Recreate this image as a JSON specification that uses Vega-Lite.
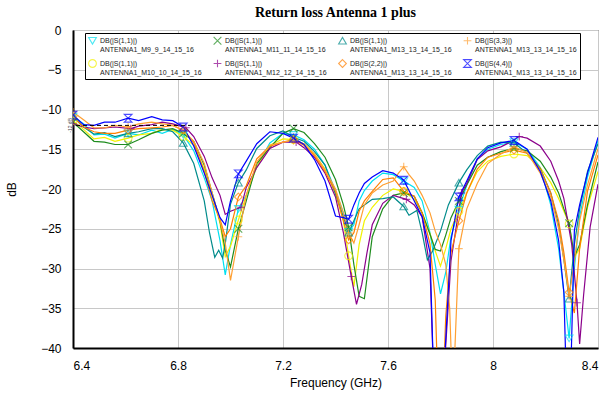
{
  "$schema": "https://vega.github.io/schema/vega-lite/v6.json",
  "autosize": "none",
  "width": 525,
  "height": 318,
  "padding": {"left": 73, "top": 30, "right": 15, "bottom": 48},
  "background": "white",
  "title": {"text": "Return loss Antenna 1 plus", "font": "Liberation Serif", "fontSize": 14, "fontWeight": "bold", "color": "black", "offset": 4, "anchor": "middle"},
  "config": {
    "view": {"stroke": "#222", "strokeWidth": 1},
    "axis": {"labelFont": "Liberation Sans", "titleFont": "Liberation Sans", "labelFontSize": 12, "titleFontSize": 12, "titleFontWeight": "normal", "labelColor": "black", "titleColor": "black", "gridColor": "#c8c8c8", "gridWidth": 1, "ticks": false, "domainColor": "black", "domainWidth": 2},
    "legend": {"orient": "none", "legendX": 12, "legendY": 3, "columns": 4, "direction": "horizontal",
      "labelFont": "Liberation Sans", "labelFontSize": 7, "labelColor": "#222", "labelLimit": 200,
      "symbolSize": 60, "symbolStrokeWidth": 1.1, "columnPadding": 9, "rowPadding": 4, "padding": 3,
      "fillColor": "white", "strokeColor": "black", "strokeWidth": 1, "labelOffset": 3}
  },
  "datasets": {
    "series": [
      {"k": "a", "n": "DB(|S(1,1)|)\nANTENNA1_M9_9_14_15_16"},
      {"k": "b", "n": "DB(|S(1,1)|)\nANTENNA1_M10_10_14_15_16"},
      {"k": "c", "n": "DB(|S(1,1)|)\nANTENNA1_M11_11_14_15_16"},
      {"k": "d", "n": "DB(|S(1,1)|)\nANTENNA1_M12_12_14_15_16"},
      {"k": "e", "n": "DB(|S(1,1)|)\nANTENNA1_M13_13_14_15_16"},
      {"k": "f", "n": "DB(|S(2,2)|)\nANTENNA1_M13_13_14_15_16"},
      {"k": "g", "n": "DB(|S(3,3)|)\nANTENNA1_M13_13_14_15_16"},
      {"k": "h", "n": "DB(|S(4,4)|)\nANTENNA1_M13_13_14_15_16"}
    ],
    "pts": [
      {"k":"a","f":6.40,"d":-10.9},{"k":"a","f":6.44,"d":-11.8},{"k":"a","f":6.48,"d":-13.2},{"k":"a","f":6.52,"d":-13.1},{"k":"a","f":6.56,"d":-13.6},{"k":"a","f":6.61,"d":-13.0},{"k":"a","f":6.65,"d":-13.2},{"k":"a","f":6.70,"d":-12.6},{"k":"a","f":6.74,"d":-13.0},{"k":"a","f":6.78,"d":-12.5},{"k":"a","f":6.82,"d":-13.2},{"k":"a","f":6.86,"d":-15.2},{"k":"a","f":6.90,"d":-18.6},{"k":"a","f":6.93,"d":-21.5},{"k":"a","f":6.96,"d":-26.5},{"k":"a","f":6.98,"d":-30.8},{"k":"a","f":7.00,"d":-27.0},{"k":"a","f":7.03,"d":-22.5},{"k":"a","f":7.06,"d":-20.8},{"k":"a","f":7.10,"d":-17.2},{"k":"a","f":7.15,"d":-14.2},{"k":"a","f":7.20,"d":-13.0},{"k":"a","f":7.24,"d":-13.2},{"k":"a","f":7.28,"d":-13.8},{"k":"a","f":7.32,"d":-15.0},{"k":"a","f":7.36,"d":-17.0},{"k":"a","f":7.40,"d":-20.2},{"k":"a","f":7.43,"d":-23.0},{"k":"a","f":7.45,"d":-25.4},{"k":"a","f":7.47,"d":-24.5},{"k":"a","f":7.49,"d":-21.5},{"k":"a","f":7.51,"d":-20.2},{"k":"a","f":7.54,"d":-19.0},{"k":"a","f":7.58,"d":-18.0},{"k":"a","f":7.62,"d":-18.2},{"k":"a","f":7.66,"d":-19.0},{"k":"a","f":7.70,"d":-19.8},{"k":"a","f":7.73,"d":-21.5},{"k":"a","f":7.76,"d":-25.5},{"k":"a","f":7.78,"d":-29.5},{"k":"a","f":7.80,"d":-33.2},{"k":"a","f":7.82,"d":-30.5},{"k":"a","f":7.84,"d":-26.0},{"k":"a","f":7.87,"d":-22.6},{"k":"a","f":7.90,"d":-19.5},{"k":"a","f":7.94,"d":-16.2},{"k":"a","f":7.98,"d":-15.0},{"k":"a","f":8.03,"d":-14.4},{"k":"a","f":8.08,"d":-14.1},{"k":"a","f":8.13,"d":-15.0},{"k":"a","f":8.18,"d":-17.3},{"k":"a","f":8.22,"d":-22.0},{"k":"a","f":8.25,"d":-27.5},{"k":"a","f":8.27,"d":-33.0},{"k":"a","f":8.29,"d":-38.8},{"k":"a","f":8.31,"d":-30.0},{"k":"a","f":8.33,"d":-23.5},{"k":"a","f":8.36,"d":-18.5},{"k":"a","f":8.40,"d":-13.9},

      {"k":"b","f":6.40,"d":-11.4},{"k":"b","f":6.44,"d":-12.5},{"k":"b","f":6.48,"d":-13.7},{"k":"b","f":6.52,"d":-13.5},{"k":"b","f":6.56,"d":-14.0},{"k":"b","f":6.61,"d":-13.6},{"k":"b","f":6.65,"d":-13.2},{"k":"b","f":6.70,"d":-13.0},{"k":"b","f":6.74,"d":-12.5},{"k":"b","f":6.78,"d":-12.6},{"k":"b","f":6.82,"d":-13.4},{"k":"b","f":6.86,"d":-14.5},{"k":"b","f":6.90,"d":-17.5},{"k":"b","f":6.93,"d":-20.8},{"k":"b","f":6.96,"d":-24.3},{"k":"b","f":6.98,"d":-28.5},{"k":"b","f":7.00,"d":-27.2},{"k":"b","f":7.03,"d":-23.9},{"k":"b","f":7.06,"d":-20.8},{"k":"b","f":7.10,"d":-17.2},{"k":"b","f":7.15,"d":-14.5},{"k":"b","f":7.20,"d":-13.7},{"k":"b","f":7.24,"d":-13.8},{"k":"b","f":7.28,"d":-14.3},{"k":"b","f":7.32,"d":-15.6},{"k":"b","f":7.36,"d":-17.5},{"k":"b","f":7.40,"d":-20.6},{"k":"b","f":7.43,"d":-24.0},{"k":"b","f":7.45,"d":-28.4},{"k":"b","f":7.47,"d":-32.3},{"k":"b","f":7.49,"d":-27.0},{"k":"b","f":7.51,"d":-24.0},{"k":"b","f":7.54,"d":-22.3},{"k":"b","f":7.58,"d":-20.8},{"k":"b","f":7.62,"d":-20.0},{"k":"b","f":7.66,"d":-20.3},{"k":"b","f":7.70,"d":-21.3},{"k":"b","f":7.73,"d":-23.0},{"k":"b","f":7.76,"d":-25.6},{"k":"b","f":7.78,"d":-27.8},{"k":"b","f":7.80,"d":-29.7},{"k":"b","f":7.82,"d":-27.5},{"k":"b","f":7.84,"d":-25.0},{"k":"b","f":7.87,"d":-22.8},{"k":"b","f":7.90,"d":-20.5},{"k":"b","f":7.94,"d":-17.8},{"k":"b","f":7.98,"d":-16.5},{"k":"b","f":8.03,"d":-15.9},{"k":"b","f":8.08,"d":-15.6},{"k":"b","f":8.13,"d":-15.8},{"k":"b","f":8.18,"d":-17.3},{"k":"b","f":8.22,"d":-19.2},{"k":"b","f":8.25,"d":-21.2},{"k":"b","f":8.27,"d":-22.8},{"k":"b","f":8.29,"d":-24.4},{"k":"b","f":8.31,"d":-28.6},{"k":"b","f":8.33,"d":-27.5},{"k":"b","f":8.36,"d":-22.3},{"k":"b","f":8.40,"d":-17.8},

      {"k":"c","f":6.40,"d":-11.6},{"k":"c","f":6.44,"d":-12.8},{"k":"c","f":6.48,"d":-14.0},{"k":"c","f":6.52,"d":-14.1},{"k":"c","f":6.56,"d":-14.4},{"k":"c","f":6.61,"d":-14.4},{"k":"c","f":6.65,"d":-13.8},{"k":"c","f":6.70,"d":-13.0},{"k":"c","f":6.74,"d":-12.6},{"k":"c","f":6.78,"d":-12.4},{"k":"c","f":6.82,"d":-13.0},{"k":"c","f":6.86,"d":-14.0},{"k":"c","f":6.90,"d":-17.0},{"k":"c","f":6.93,"d":-20.5},{"k":"c","f":6.96,"d":-24.0},{"k":"c","f":6.98,"d":-27.7},{"k":"c","f":7.00,"d":-29.8},{"k":"c","f":7.03,"d":-25.0},{"k":"c","f":7.06,"d":-21.5},{"k":"c","f":7.10,"d":-16.8},{"k":"c","f":7.15,"d":-14.8},{"k":"c","f":7.20,"d":-13.0},{"k":"c","f":7.24,"d":-12.4},{"k":"c","f":7.28,"d":-12.9},{"k":"c","f":7.32,"d":-14.3},{"k":"c","f":7.36,"d":-16.0},{"k":"c","f":7.40,"d":-18.8},{"k":"c","f":7.43,"d":-22.0},{"k":"c","f":7.45,"d":-24.8},{"k":"c","f":7.47,"d":-29.5},{"k":"c","f":7.49,"d":-33.5},{"k":"c","f":7.51,"d":-33.8},{"k":"c","f":7.54,"d":-26.0},{"k":"c","f":7.58,"d":-22.5},{"k":"c","f":7.62,"d":-20.8},{"k":"c","f":7.66,"d":-20.5},{"k":"c","f":7.70,"d":-20.9},{"k":"c","f":7.73,"d":-23.0},{"k":"c","f":7.76,"d":-25.7},{"k":"c","f":7.78,"d":-27.6},{"k":"c","f":7.80,"d":-27.8},{"k":"c","f":7.82,"d":-25.8},{"k":"c","f":7.84,"d":-23.6},{"k":"c","f":7.87,"d":-21.5},{"k":"c","f":7.90,"d":-19.5},{"k":"c","f":7.94,"d":-17.0},{"k":"c","f":7.98,"d":-16.0},{"k":"c","f":8.03,"d":-15.3},{"k":"c","f":8.08,"d":-14.9},{"k":"c","f":8.13,"d":-15.2},{"k":"c","f":8.18,"d":-16.5},{"k":"c","f":8.22,"d":-18.5},{"k":"c","f":8.25,"d":-20.5},{"k":"c","f":8.27,"d":-22.5},{"k":"c","f":8.29,"d":-24.3},{"k":"c","f":8.31,"d":-28.5},{"k":"c","f":8.33,"d":-27.0},{"k":"c","f":8.36,"d":-22.0},{"k":"c","f":8.40,"d":-16.6},

      {"k":"d","f":6.40,"d":-11.8},{"k":"d","f":6.44,"d":-12.2},{"k":"d","f":6.48,"d":-12.4},{"k":"d","f":6.52,"d":-12.3},{"k":"d","f":6.56,"d":-12.2},{"k":"d","f":6.62,"d":-12.4},{"k":"d","f":6.65,"d":-12.1},{"k":"d","f":6.70,"d":-11.9},{"k":"d","f":6.74,"d":-11.6},{"k":"d","f":6.78,"d":-11.8},{"k":"d","f":6.83,"d":-12.3},{"k":"d","f":6.86,"d":-13.4},{"k":"d","f":6.90,"d":-15.9},{"k":"d","f":6.93,"d":-18.6},{"k":"d","f":6.96,"d":-20.8},{"k":"d","f":6.98,"d":-23.2},{"k":"d","f":7.00,"d":-22.8},{"k":"d","f":7.04,"d":-22.3},{"k":"d","f":7.06,"d":-19.8},{"k":"d","f":7.10,"d":-17.3},{"k":"d","f":7.15,"d":-14.9},{"k":"d","f":7.20,"d":-14.1},{"k":"d","f":7.25,"d":-14.1},{"k":"d","f":7.28,"d":-14.8},{"k":"d","f":7.32,"d":-16.0},{"k":"d","f":7.36,"d":-18.0},{"k":"d","f":7.40,"d":-21.0},{"k":"d","f":7.43,"d":-25.5},{"k":"d","f":7.46,"d":-31.0},{"k":"d","f":7.48,"d":-34.5},{"k":"d","f":7.50,"d":-32.0},{"k":"d","f":7.52,"d":-28.0},{"k":"d","f":7.54,"d":-24.5},{"k":"d","f":7.58,"d":-21.8},{"k":"d","f":7.62,"d":-20.8},{"k":"d","f":7.67,"d":-21.3},{"k":"d","f":7.70,"d":-22.0},{"k":"d","f":7.73,"d":-23.5},{"k":"d","f":7.76,"d":-30.0},{"k":"d","f":7.775,"d":-45},{"k":"d","f":7.80,"d":-48},{"k":"d","f":7.81,"d":-45},{"k":"d","f":7.84,"d":-29.0},{"k":"d","f":7.88,"d":-20.5},{"k":"d","f":7.90,"d":-19.3},{"k":"d","f":7.94,"d":-16.3},{"k":"d","f":7.98,"d":-15.2},{"k":"d","f":8.03,"d":-14.7},{"k":"d","f":8.06,"d":-14.2},{"k":"d","f":8.10,"d":-13.4},{"k":"d","f":8.13,"d":-13.6},{"k":"d","f":8.18,"d":-14.6},{"k":"d","f":8.22,"d":-16.5},{"k":"d","f":8.25,"d":-19.0},{"k":"d","f":8.27,"d":-21.2},{"k":"d","f":8.30,"d":-27.0},{"k":"d","f":8.32,"d":-34.3},{"k":"d","f":8.33,"d":-39.5},{"k":"d","f":8.345,"d":-33.4},{"k":"d","f":8.37,"d":-24.8},{"k":"d","f":8.40,"d":-19.4},

      {"k":"e","f":6.40,"d":-10.9},{"k":"e","f":6.44,"d":-12.2},{"k":"e","f":6.48,"d":-13.1},{"k":"e","f":6.52,"d":-12.9},{"k":"e","f":6.56,"d":-13.4},{"k":"e","f":6.61,"d":-13.0},{"k":"e","f":6.65,"d":-12.8},{"k":"e","f":6.70,"d":-12.4},{"k":"e","f":6.74,"d":-12.4},{"k":"e","f":6.78,"d":-12.8},{"k":"e","f":6.82,"d":-14.2},{"k":"e","f":6.86,"d":-16.8},{"k":"e","f":6.90,"d":-21.5},{"k":"e","f":6.92,"d":-25.5},{"k":"e","f":6.94,"d":-28.6},{"k":"e","f":6.955,"d":-27.7},{"k":"e","f":6.97,"d":-28.7},{"k":"e","f":6.98,"d":-26.9},{"k":"e","f":7.00,"d":-21.9},{"k":"e","f":7.03,"d":-19.2},{"k":"e","f":7.06,"d":-17.6},{"k":"e","f":7.10,"d":-14.9},{"k":"e","f":7.15,"d":-13.3},{"k":"e","f":7.20,"d":-12.7},{"k":"e","f":7.24,"d":-13.5},{"k":"e","f":7.28,"d":-14.0},{"k":"e","f":7.32,"d":-15.3},{"k":"e","f":7.36,"d":-17.0},{"k":"e","f":7.40,"d":-20.6},{"k":"e","f":7.43,"d":-23.5},{"k":"e","f":7.45,"d":-25.5},{"k":"e","f":7.47,"d":-24.0},{"k":"e","f":7.49,"d":-22.5},{"k":"e","f":7.51,"d":-22.0},{"k":"e","f":7.54,"d":-21.3},{"k":"e","f":7.58,"d":-21.2},{"k":"e","f":7.62,"d":-21.0},{"k":"e","f":7.66,"d":-22.2},{"k":"e","f":7.68,"d":-23.3},{"k":"e","f":7.71,"d":-22.7},{"k":"e","f":7.73,"d":-25.5},{"k":"e","f":7.75,"d":-28.9},{"k":"e","f":7.77,"d":-27.8},{"k":"e","f":7.80,"d":-25.3},{"k":"e","f":7.83,"d":-22.0},{"k":"e","f":7.87,"d":-19.2},{"k":"e","f":7.90,"d":-17.6},{"k":"e","f":7.94,"d":-15.8},{"k":"e","f":7.98,"d":-14.6},{"k":"e","f":8.03,"d":-14.1},{"k":"e","f":8.08,"d":-14.2},{"k":"e","f":8.13,"d":-15.5},{"k":"e","f":8.18,"d":-17.4},{"k":"e","f":8.22,"d":-20.5},{"k":"e","f":8.25,"d":-24.5},{"k":"e","f":8.27,"d":-28.9},{"k":"e","f":8.29,"d":-33.8},{"k":"e","f":8.31,"d":-27.0},{"k":"e","f":8.33,"d":-22.5},{"k":"e","f":8.36,"d":-17.8},{"k":"e","f":8.40,"d":-14.3},

      {"k":"f","f":6.40,"d":-10.9},{"k":"f","f":6.44,"d":-12.2},{"k":"f","f":6.48,"d":-12.8},{"k":"f","f":6.52,"d":-13.0},{"k":"f","f":6.56,"d":-13.0},{"k":"f","f":6.61,"d":-12.6},{"k":"f","f":6.65,"d":-12.4},{"k":"f","f":6.70,"d":-12.3},{"k":"f","f":6.74,"d":-12.2},{"k":"f","f":6.78,"d":-12.0},{"k":"f","f":6.82,"d":-12.6},{"k":"f","f":6.86,"d":-14.2},{"k":"f","f":6.90,"d":-17.8},{"k":"f","f":6.93,"d":-21.5},{"k":"f","f":6.96,"d":-23.8},{"k":"f","f":6.98,"d":-26.0},{"k":"f","f":7.00,"d":-25.0},{"k":"f","f":7.03,"d":-21.0},{"k":"f","f":7.06,"d":-19.6},{"k":"f","f":7.10,"d":-16.2},{"k":"f","f":7.15,"d":-14.6},{"k":"f","f":7.20,"d":-14.1},{"k":"f","f":7.24,"d":-13.8},{"k":"f","f":7.28,"d":-14.5},{"k":"f","f":7.32,"d":-15.8},{"k":"f","f":7.36,"d":-17.8},{"k":"f","f":7.40,"d":-20.3},{"k":"f","f":7.43,"d":-24.0},{"k":"f","f":7.45,"d":-26.4},{"k":"f","f":7.47,"d":-25.5},{"k":"f","f":7.49,"d":-22.8},{"k":"f","f":7.51,"d":-21.5},{"k":"f","f":7.54,"d":-20.3},{"k":"f","f":7.58,"d":-18.8},{"k":"f","f":7.62,"d":-18.6},{"k":"f","f":7.66,"d":-20.3},{"k":"f","f":7.70,"d":-20.9},{"k":"f","f":7.73,"d":-23.0},{"k":"f","f":7.76,"d":-26.9},{"k":"f","f":7.78,"d":-34.0},{"k":"f","f":7.79,"d":-45},{"k":"f","f":7.81,"d":-45},{"k":"f","f":7.82,"d":-36.0},{"k":"f","f":7.84,"d":-28.0},{"k":"f","f":7.87,"d":-24.0},{"k":"f","f":7.90,"d":-20.5},{"k":"f","f":7.94,"d":-17.5},{"k":"f","f":7.98,"d":-16.0},{"k":"f","f":8.03,"d":-15.5},{"k":"f","f":8.08,"d":-15.1},{"k":"f","f":8.13,"d":-15.5},{"k":"f","f":8.18,"d":-17.5},{"k":"f","f":8.22,"d":-20.5},{"k":"f","f":8.25,"d":-24.0},{"k":"f","f":8.27,"d":-28.0},{"k":"f","f":8.29,"d":-33.0},{"k":"f","f":8.31,"d":-35.6},{"k":"f","f":8.33,"d":-27.5},{"k":"f","f":8.36,"d":-20.3},{"k":"f","f":8.40,"d":-15.7},

      {"k":"g","f":6.40,"d":-10.3},{"k":"g","f":6.44,"d":-11.3},{"k":"g","f":6.48,"d":-12.3},{"k":"g","f":6.52,"d":-12.3},{"k":"g","f":6.56,"d":-12.0},{"k":"g","f":6.61,"d":-12.2},{"k":"g","f":6.65,"d":-11.8},{"k":"g","f":6.70,"d":-11.6},{"k":"g","f":6.74,"d":-11.8},{"k":"g","f":6.78,"d":-12.0},{"k":"g","f":6.82,"d":-12.6},{"k":"g","f":6.86,"d":-14.0},{"k":"g","f":6.90,"d":-16.8},{"k":"g","f":6.93,"d":-20.5},{"k":"g","f":6.96,"d":-24.0},{"k":"g","f":6.98,"d":-26.8},{"k":"g","f":7.00,"d":-31.5},{"k":"g","f":7.03,"d":-26.0},{"k":"g","f":7.06,"d":-20.8},{"k":"g","f":7.10,"d":-16.6},{"k":"g","f":7.15,"d":-14.5},{"k":"g","f":7.20,"d":-14.1},{"k":"g","f":7.24,"d":-13.9},{"k":"g","f":7.28,"d":-14.3},{"k":"g","f":7.32,"d":-15.6},{"k":"g","f":7.36,"d":-17.6},{"k":"g","f":7.40,"d":-20.0},{"k":"g","f":7.43,"d":-23.0},{"k":"g","f":7.45,"d":-25.5},{"k":"g","f":7.47,"d":-26.8},{"k":"g","f":7.49,"d":-24.5},{"k":"g","f":7.51,"d":-22.0},{"k":"g","f":7.54,"d":-20.5},{"k":"g","f":7.58,"d":-19.5},{"k":"g","f":7.62,"d":-19.0},{"k":"g","f":7.64,"d":-18.0},{"k":"g","f":7.66,"d":-17.2},{"k":"g","f":7.68,"d":-18.2},{"k":"g","f":7.70,"d":-19.0},{"k":"g","f":7.73,"d":-20.8},{"k":"g","f":7.76,"d":-23.0},{"k":"g","f":7.78,"d":-25.3},{"k":"g","f":7.80,"d":-27.0},{"k":"g","f":7.82,"d":-29.5},{"k":"g","f":7.835,"d":-35.0},{"k":"g","f":7.845,"d":-45},{"k":"g","f":7.855,"d":-40.0},{"k":"g","f":7.87,"d":-27.5},{"k":"g","f":7.90,"d":-22.5},{"k":"g","f":7.94,"d":-19.3},{"k":"g","f":7.98,"d":-16.8},{"k":"g","f":8.03,"d":-15.6},{"k":"g","f":8.08,"d":-14.7},{"k":"g","f":8.13,"d":-15.4},{"k":"g","f":8.18,"d":-18.0},{"k":"g","f":8.22,"d":-21.0},{"k":"g","f":8.25,"d":-25.0},{"k":"g","f":8.27,"d":-28.9},{"k":"g","f":8.29,"d":-33.5},{"k":"g","f":8.31,"d":-29.0},{"k":"g","f":8.33,"d":-24.0},{"k":"g","f":8.36,"d":-19.5},{"k":"g","f":8.40,"d":-14.9},

      {"k":"h","f":6.40,"d":-10.7},{"k":"h","f":6.44,"d":-11.9},{"k":"h","f":6.48,"d":-12.0},{"k":"h","f":6.52,"d":-11.6},{"k":"h","f":6.56,"d":-11.6},{"k":"h","f":6.61,"d":-11.1},{"k":"h","f":6.65,"d":-11.4},{"k":"h","f":6.70,"d":-10.9},{"k":"h","f":6.74,"d":-11.3},{"k":"h","f":6.78,"d":-11.4},{"k":"h","f":6.82,"d":-12.2},{"k":"h","f":6.86,"d":-14.6},{"k":"h","f":6.90,"d":-18.0},{"k":"h","f":6.93,"d":-20.8},{"k":"h","f":6.96,"d":-23.6},{"k":"h","f":6.98,"d":-24.5},{"k":"h","f":7.00,"d":-21.5},{"k":"h","f":7.03,"d":-18.1},{"k":"h","f":7.06,"d":-16.5},{"k":"h","f":7.10,"d":-14.3},{"k":"h","f":7.15,"d":-12.8},{"k":"h","f":7.20,"d":-13.0},{"k":"h","f":7.24,"d":-13.6},{"k":"h","f":7.28,"d":-14.4},{"k":"h","f":7.32,"d":-16.3},{"k":"h","f":7.36,"d":-19.0},{"k":"h","f":7.40,"d":-23.4},{"k":"h","f":7.43,"d":-23.6},{"k":"h","f":7.45,"d":-23.8},{"k":"h","f":7.47,"d":-22.0},{"k":"h","f":7.49,"d":-20.5},{"k":"h","f":7.51,"d":-19.3},{"k":"h","f":7.54,"d":-18.5},{"k":"h","f":7.58,"d":-17.7},{"k":"h","f":7.62,"d":-18.0},{"k":"h","f":7.66,"d":-18.9},{"k":"h","f":7.70,"d":-21.5},{"k":"h","f":7.73,"d":-23.5},{"k":"h","f":7.76,"d":-28.0},{"k":"h","f":7.775,"d":-45},{"k":"h","f":7.80,"d":-48},{"k":"h","f":7.81,"d":-45},{"k":"h","f":7.84,"d":-26.5},{"k":"h","f":7.87,"d":-21.0},{"k":"h","f":7.90,"d":-19.0},{"k":"h","f":7.94,"d":-16.2},{"k":"h","f":7.98,"d":-14.8},{"k":"h","f":8.03,"d":-14.2},{"k":"h","f":8.08,"d":-13.9},{"k":"h","f":8.13,"d":-15.0},{"k":"h","f":8.18,"d":-17.8},{"k":"h","f":8.22,"d":-21.5},{"k":"h","f":8.25,"d":-26.5},{"k":"h","f":8.27,"d":-33.0},{"k":"h","f":8.28,"d":-45},{"k":"h","f":8.295,"d":-45},{"k":"h","f":8.31,"d":-25.2},{"k":"h","f":8.33,"d":-22.0},{"k":"h","f":8.36,"d":-18.0},{"k":"h","f":8.40,"d":-13.5}
    ],
    "limit": [{"v": -12, "x": 6.4, "t": "-12 dB"}]
  },
  "encoding": {
    "x": {"field": "f", "type": "quantitative", "scale": {"domain": [6.4, 8.4], "nice": false},
          "axis": {"title": "Frequency (GHz)", "values": [6.4, 6.8, 7.2, 7.6, 8.0, 8.4], "format": "~g", "labelPadding": 12, "titlePadding": 6, "grid": true}},
    "y": {"field": "d", "type": "quantitative", "scale": {"domain": [-40, 0], "nice": false},
          "axis": {"title": "dB", "values": [-40, -35, -30, -25, -20, -15, -10, -5, 0], "labelPadding": 12, "titlePadding": 22, "grid": true}}
  },
  "layer": [
    {
      "data": {"name": "pts"},
      "transform": [{"lookup": "k", "from": {"data": {"name": "series"}, "key": "k", "fields": ["n"]}}],
      "mark": {"type": "line", "strokeWidth": 1.2, "clip": true},
      "encoding": {
        "color": {"field": "n", "type": "nominal", "title": null,
          "scale": {
            "domain": ["DB(|S(1,1)|)\nANTENNA1_M9_9_14_15_16", "DB(|S(1,1)|)\nANTENNA1_M11_11_14_15_16", "DB(|S(1,1)|)\nANTENNA1_M13_13_14_15_16", "DB(|S(3,3)|)\nANTENNA1_M13_13_14_15_16", "DB(|S(1,1)|)\nANTENNA1_M10_10_14_15_16", "DB(|S(1,1)|)\nANTENNA1_M12_12_14_15_16", "DB(|S(2,2)|)\nANTENNA1_M13_13_14_15_16", "DB(|S(4,4)|)\nANTENNA1_M13_13_14_15_16"],
            "range": ["#00E0F0", "#1E8C1E", "#008B8B", "#FFA033", "#F2F200", "#8B008B", "#FF8000", "#0000FF"]
          },
          "legend": {"labelExpr": "split(datum.label, '\\n')"}
        }
      }
    },
    {
      "data": {"name": "pts"},
      "transform": [
        {"lookup": "k", "from": {"data": {"name": "series"}, "key": "k", "fields": ["n"]}},
        {"filter": {"field": "f", "oneOf": [6.4, 6.61, 6.62, 6.82, 6.83, 7.03, 7.04, 7.24, 7.25, 7.45, 7.46, 7.66, 7.67, 7.87, 7.88, 8.08, 8.1, 8.29, 8.32]}}
      ],
      "mark": {"type": "point", "filled": false, "size": 60, "strokeWidth": 1.1, "clip": true},
      "encoding": {
        "color": {"field": "n", "type": "nominal", "title": null, "legend": {"labelExpr": "split(datum.label, '\\n')"}},
        "shape": {"field": "n", "type": "nominal", "title": null,
          "scale": {
            "domain": ["DB(|S(1,1)|)\nANTENNA1_M9_9_14_15_16", "DB(|S(1,1)|)\nANTENNA1_M11_11_14_15_16", "DB(|S(1,1)|)\nANTENNA1_M13_13_14_15_16", "DB(|S(3,3)|)\nANTENNA1_M13_13_14_15_16", "DB(|S(1,1)|)\nANTENNA1_M10_10_14_15_16", "DB(|S(1,1)|)\nANTENNA1_M12_12_14_15_16", "DB(|S(2,2)|)\nANTENNA1_M13_13_14_15_16", "DB(|S(4,4)|)\nANTENNA1_M13_13_14_15_16"],
            "range": ["M-1,-0.85L1,-0.85L0,0.85Z", "M-1,-1L1,1M-1,1L1,-1", "M-1,0.85L1,0.85L0,-0.85Z", "M-1,0L1,0M0,-1L0,1", "circle", "M-1,0L1,0M0,-1L0,1", "M0,-1L1,0L0,1L-1,0Z", "M-1,-1L1,-1L-1,1L1,1Z"]
          },
          "legend": {"labelExpr": "split(datum.label, '\\n')"}
        }
      }
    },
    {
      "data": {"name": "limit"},
      "mark": {"type": "rule", "color": "black", "strokeDash": [4, 3], "strokeWidth": 1},
      "encoding": {"x": null, "y": {"field": "v", "type": "quantitative"}}
    },
    {
      "data": {"name": "limit"},
      "mark": {"type": "text", "angle": 270, "fontSize": 5, "font": "Liberation Sans", "color": "#444", "baseline": "bottom", "align": "center"},
      "encoding": {
        "x": {"field": "x", "type": "quantitative"},
        "y": {"field": "v", "type": "quantitative"},
        "text": {"field": "t"}
      }
    }
  ]
}
